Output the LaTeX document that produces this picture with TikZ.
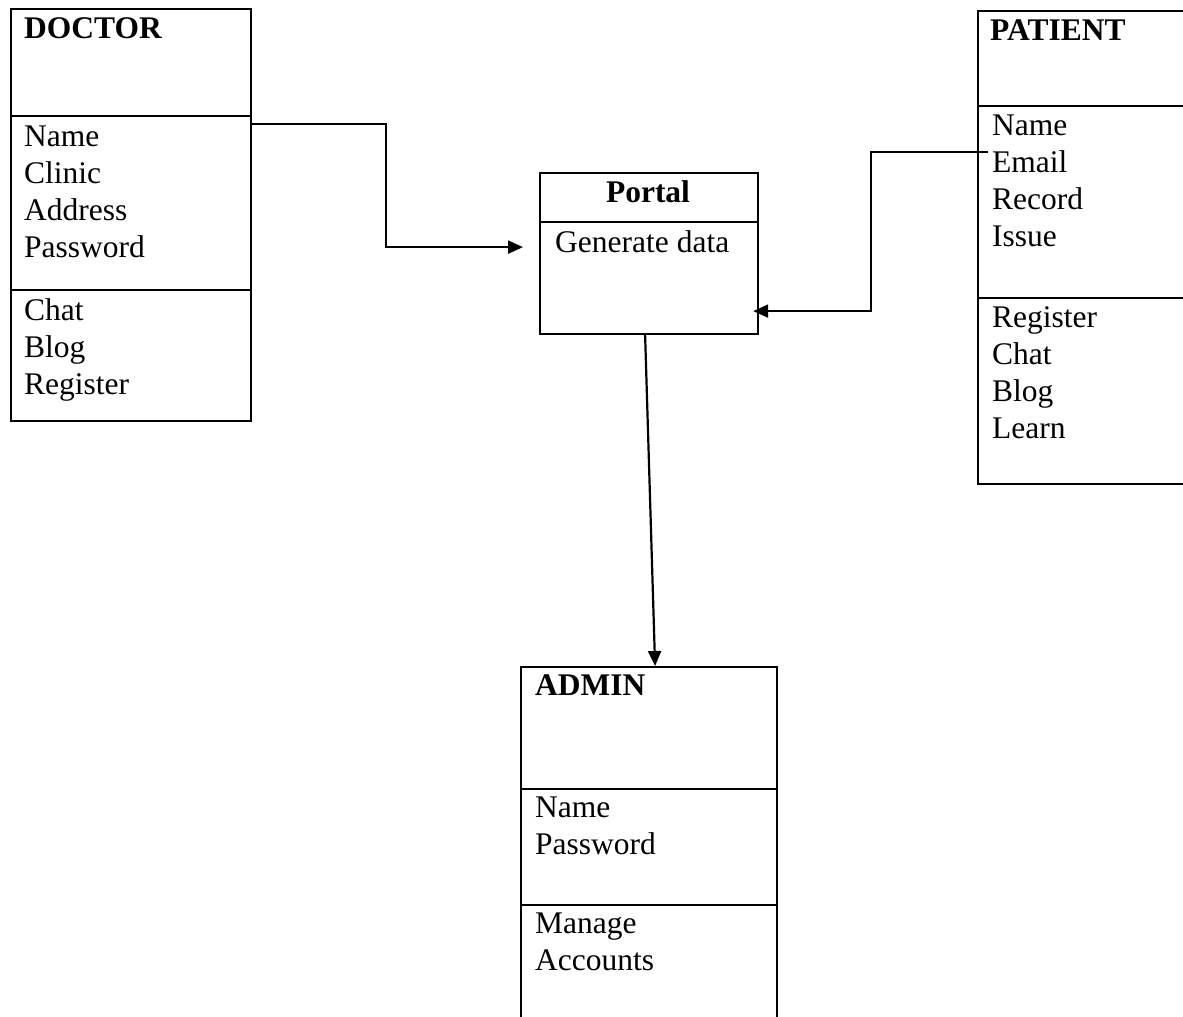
\documentclass[tikz,border=0pt]{standalone}
\usepackage{fontspec}
\setmainfont{Liberation Serif}
\usetikzlibrary{arrows.meta}
\begin{document}
\begin{tikzpicture}[x=1pt,y=-1pt,
  box/.style={draw,line width=2.2pt,rectangle,inner sep=0pt,anchor=north west},
  divline/.style={line width=2.2pt},
  txt/.style={anchor=base west,inner sep=0pt,font=\fontsize{31.5}{37}\selectfont},
  ttl/.style={txt,font=\fontsize{31.5}{37}\selectfont\bfseries},
  conn/.style={line width=2.2pt,-{Triangle[length=15pt,width=13pt]}}]
\useasboundingbox (0,0) rectangle (1183,1017);

% DOCTOR
\node[box,minimum width=240pt,minimum height=412pt] (doc) at (10,8) {};
\draw[divline] (10,116) -- (250,116);
\draw[divline] (10,290) -- (250,290);
\node[ttl] (doct) at (24,38) {DOCTOR};
\foreach \t [count=\i] in {Name,Clinic,Address,Password}
  \node[txt] (doca\i) at (24,{146+37*(\i-1)}) {\t};
\foreach \t [count=\i] in {Chat,Blog,Register}
  \node[txt] (docm\i) at (24,{320+37*(\i-1)}) {\t};

% PATIENT
\node[box,minimum width=220pt,minimum height=473pt] (pat) at (977,10) {};
\draw[divline] (977,106) -- (1197,106);
\draw[divline] (977,298) -- (1197,298);
\node[ttl] (patt) at (990,40) {PATIENT};
\foreach \t [count=\i] in {Name,Email,Record,Issue}
  \node[txt] (pata\i) at (992,{135+37*(\i-1)}) {\t};
\foreach \t [count=\i] in {Register,Chat,Blog,Learn}
  \node[txt] (patm\i) at (992,{327+37*(\i-1)}) {\t};

% PORTAL
\node[box,minimum width=218pt,minimum height=161pt] (portal) at (539,172) {};
\draw[divline] (539,222) -- (757,222);
\node[ttl,anchor=base] (portt) at (648,202) {Portal};
\node[txt] (porta) at (555,252) {Generate data};

% ADMIN
\node[box,minimum width=256pt,minimum height=370pt] (adm) at (520,666) {};
\draw[divline] (520,789) -- (776,789);
\draw[divline] (520,905) -- (776,905);
\node[ttl] (admt) at (535,695) {ADMIN};
\foreach \t [count=\i] in {Name,Password}
  \node[txt] (adma\i) at (535,{817+37*(\i-1)}) {\t};
\foreach \t [count=\i] in {Manage,Accounts}
  \node[txt] (admm\i) at (535,{933+37*(\i-1)}) {\t};

% connectors
\coordinate (c1s) at ([yshift=-116pt]doc.north east);
\coordinate (c1e) at ([xshift=-16pt,yshift=6.5pt]portal.west);
\draw[conn] (c1s) -- (386,124) |- (c1e);

\coordinate (c2s) at ([xshift=11pt,yshift=-142pt]pat.north west);
\coordinate (c2e) at ([xshift=-6pt,yshift=-57.5pt]portal.east);
\draw[conn] (c2s) -- (871,152) |- (c2e);

\coordinate (c3s) at ([xshift=-4pt]portal.south);
\coordinate (c3e) at ([xshift=6pt]adm.north);
\draw[conn] (c3s) -- (c3e);
\end{tikzpicture}
\end{document}
